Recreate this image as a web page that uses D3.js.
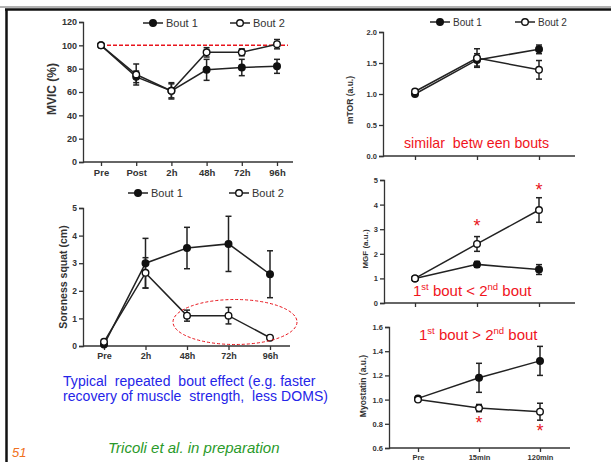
<!DOCTYPE html>
<html>
<head>
<meta charset="utf-8">
<script src="https://cdn.jsdelivr.net/npm/d3@7"></script>
<style>
  body { margin: 0; background: #fff; }
  svg { display: block; font-family: "Liberation Sans", Arial, sans-serif; }
  .tick text { font-weight: bold; fill: #333; }
  .domain, .tick line { stroke: #333; stroke-width: 1.3px; }
</style>
</head>
<body>
<svg id="slide" width="611" height="462"></svg>
<script>
// data
const mvicCats = ["Pre", "Post", "2h", "48h", "72h", "96h"];
const mvicBout1 = [100, 73, 61, 79, 81, 82];
const mvicBout1Err = [0, 5, 6, 9, 7, 6];
const mvicBout2 = [100, 75, 61, 94, 94, 101];
const mvicBout2Err = [0, 9, 7, 4, 3, 4];
const mvicTicks = [0, 20, 40, 60, 80, 100, 120];

const sorenessCats = ["Pre", "2h", "48h", "72h", "96h"];
const sorenessBout1 = [0.05, 3.0, 3.55, 3.7, 2.6];
const sorenessBout1Err = [0, 0.9, 0.75, 1.0, 0.85];
const sorenessBout2 = [0.15, 2.65, 1.1, 1.1, 0.3];
const sorenessBout2Err = [0, 0.55, 0.2, 0.3, 0.05];
const sorenessTicks = [0, 1, 2, 3, 4, 5];

const biopsyCats = ["Pre", "15min", "120min"];
const mtorBout1 = [1.0, 1.55, 1.72];
const mtorBout1Err = [0, 0.1, 0.07];
const mtorBout2 = [1.04, 1.58, 1.39];
const mtorBout2Err = [0, 0.15, 0.15];
const mtorTicks = [0, 0.5, 1.0, 1.5, 2.0];

const mgfBout1 = [1.0, 1.57, 1.36];
const mgfBout1Err = [0, 0.12, 0.2];
const mgfBout2 = [1.0, 2.4, 3.78];
const mgfBout2Err = [0, 0.3, 0.5];
const mgfTicks = [0, 1, 2, 3, 4, 5];

const myoBout1 = [1.01, 1.18, 1.32];
const myoBout1Err = [0, 0.12, 0.12];
const myoBout2 = [1.0, 0.93, 0.90];
const myoBout2Err = [0, 0.03, 0.07];
const myoTicks = [0.6, 0.8, 1.0, 1.2, 1.4, 1.6];

const svg = d3.select("#slide");

// slide frame
svg.append("line").attr("x1", 0).attr("x2", 611).attr("y1", 7).attr("y2", 7)
  .attr("stroke", "#999").attr("stroke-width", 1.5);
svg.append("line").attr("x1", 5).attr("x2", 611).attr("y1", 9.5).attr("y2", 9.5)
  .attr("stroke", "#111").attr("stroke-width", 2.5);
svg.append("line").attr("x1", 6.5).attr("x2", 6.5).attr("y1", 9).attr("y2", 462)
  .attr("stroke", "#111").attr("stroke-width", 2.5);

function drawPanel(p) {
  const g = svg.append("g");
  const x = d3.scalePoint().domain(p.cats).range([p.x0, p.x1]);
  const y = d3.scaleLinear().domain(p.domain).range([p.yBottom, p.yTop]);

  const yAxis = d3.axisLeft(y).tickValues(p.ticks).tickSize(4).tickPadding(2)
    .tickFormat(p.fmt || d3.format("d"));
  g.append("g").attr("transform", `translate(${p.axisX},0)`).call(yAxis)
    .call(a => a.selectAll("text").style("font-size", p.tickFont + "px"));

  const xAxis = d3.axisBottom(x).tickSize(4).tickPadding(3)
    .tickFormat(p.showX ? (d => d) : () => "");
  const gx = g.append("g").attr("transform", `translate(0,${p.yBottom})`).call(xAxis);
  gx.select(".domain").attr("d", `M${p.axisX},0H${p.axisEnd}`);
  gx.selectAll("text").style("font-size", p.xFont + "px");

  g.append("text")
    .attr("transform", `translate(${p.labelX},${p.labelY || (p.yBottom + p.yTop) / 2}) rotate(-90)`)
    .attr("text-anchor", "middle").attr("dy", "0.35em").attr("font-weight", "bold")
    .attr("font-size", p.labelFont).attr("fill", "#333").text(p.label);

  if (p.refLine != null) {
    g.append("line").attr("x1", x(p.cats[0])).attr("x2", p.refEnd)
      .attr("y1", y(p.refLine)).attr("y2", y(p.refLine))
      .attr("stroke", "#e8141c").attr("stroke-width", 1.5).attr("stroke-dasharray", "4,2");
  }

  const line = d3.line().x((d, i) => x(p.cats[i])).y(d => y(d));
  p.series.forEach(s => {
    g.append("path").attr("d", line(s.values)).attr("fill", "none")
      .attr("stroke", "#222").attr("stroke-width", 1.5);
    s.values.forEach((v, i) => {
      const e = s.err[i];
      if (!e) return;
      const cx = x(p.cats[i]);
      g.append("line").attr("x1", cx).attr("x2", cx).attr("y1", y(v - e)).attr("y2", y(v + e))
        .attr("stroke", "#222").attr("stroke-width", 1.5);
      [v - e, v + e].forEach(t => g.append("line").attr("x1", cx - 3).attr("x2", cx + 3)
        .attr("y1", y(t)).attr("y2", y(t)).attr("stroke", "#222").attr("stroke-width", 1.5));
    });
  });
  p.series.forEach(s => {
    g.selectAll(null).data(s.values).join("circle")
      .attr("cx", (d, i) => x(p.cats[i])).attr("cy", d => y(d)).attr("r", 3.3)
      .attr("fill", s.open ? "#fff" : "#111").attr("stroke", "#111").attr("stroke-width", 1.4);
  });

  if (p.legend) {
    p.legend.forEach(l => {
      g.append("line").attr("x1", l.x).attr("x2", l.x + 20).attr("y1", p.legendY).attr("y2", p.legendY)
        .attr("stroke", "#222").attr("stroke-width", 1.5);
      g.append("circle").attr("cx", l.x + 10).attr("cy", p.legendY).attr("r", 3.3)
        .attr("fill", l.open ? "#fff" : "#111").attr("stroke", "#111").attr("stroke-width", 1.4);
      g.append("text").attr("x", l.x + 23).attr("y", p.legendY).attr("dy", "0.35em")
        .attr("font-size", p.legendFont).attr("fill", "#333").text(l.text);
    });
  }

  if (p.stars) {
    p.stars.forEach(st => g.append("text").attr("x", x(st.cat)).attr("y", st.y)
      .attr("text-anchor", "middle").attr("font-size", 18).attr("fill", "#e8141c").text("*"));
  }
  return { x, y };
}

drawPanel({
  cats: mvicCats, x0: 101, x1: 277, axisX: 83, axisEnd: 293,
  domain: [0, 120], ticks: mvicTicks, yBottom: 162, yTop: 22,
  tickFont: 9, xFont: 9.5, showX: true, label: "MVIC (%)", labelX: 52, labelY: 89, labelFont: 12,
  refLine: 100, refEnd: 288,
  series: [{ values: mvicBout1, err: mvicBout1Err }, { values: mvicBout2, err: mvicBout2Err, open: true }],
  legend: [{ x: 143, text: "Bout 1" }, { x: 230, text: "Bout 2", open: true }],
  legendY: 23, legendFont: 11
});

drawPanel({
  cats: sorenessCats, x0: 104, x1: 270, axisX: 83, axisEnd: 290,
  domain: [0, 5], ticks: sorenessTicks, yBottom: 346, yTop: 208,
  tickFont: 8.5, xFont: 9, showX: true, label: "Soreness squat (cm)", labelX: 63, labelY: 277, labelFont: 10.5,
  series: [{ values: sorenessBout1, err: sorenessBout1Err }, { values: sorenessBout2, err: sorenessBout2Err, open: true }],
  legend: [{ x: 128, text: "Bout 1" }, { x: 229, text: "Bout 2", open: true }],
  legendY: 193, legendFont: 11
});

drawPanel({
  cats: biopsyCats, x0: 415, x1: 539, axisX: 383, axisEnd: 575,
  domain: [0, 2], ticks: mtorTicks, yBottom: 156, yTop: 32, fmt: d3.format(".1f"),
  tickFont: 7.5, xFont: 7, showX: false, label: "mTOR (a.u.)", labelX: 350.5, labelY: 100, labelFont: 8.5,
  series: [{ values: mtorBout1, err: mtorBout1Err }, { values: mtorBout2, err: mtorBout2Err, open: true }],
  legend: [{ x: 430, text: "Bout 1" }, { x: 515, text: "Bout 2", open: true }],
  legendY: 22, legendFont: 10
});

drawPanel({
  cats: biopsyCats, x0: 415, x1: 539, axisX: 384, axisEnd: 575,
  domain: [0, 5], ticks: mgfTicks, yBottom: 303, yTop: 180,
  tickFont: 7.5, xFont: 7, showX: false, label: "MGF (a.u.)", labelX: 365.5, labelY: 249, labelFont: 8,
  series: [{ values: mgfBout1, err: mgfBout1Err }, { values: mgfBout2, err: mgfBout2Err, open: true }],
  stars: [{ cat: "15min", y: 232 }, { cat: "120min", y: 196 }]
});

drawPanel({
  cats: biopsyCats, x0: 418, x1: 540, axisX: 389, axisEnd: 570,
  domain: [0.6, 1.6], ticks: myoTicks, yBottom: 448, yTop: 327, fmt: d3.format(".1f"),
  tickFont: 7.5, xFont: 7.5, showX: true, label: "Myostatin (a.u.)", labelX: 363, labelY: 386, labelFont: 8.5,
  series: [{ values: myoBout1, err: myoBout1Err }, { values: myoBout2, err: myoBout2Err, open: true }],
  stars: [{ cat: "15min", y: 429 }, { cat: "120min", y: 437 }]
});

// red dashed ellipse around the bout 2 recovery
svg.append("ellipse").attr("cx", 235).attr("cy", 322).attr("rx", 62).attr("ry", 22.5)
  .attr("fill", "none").attr("stroke", "#e8141c").attr("stroke-width", 1)
  .attr("stroke-dasharray", "3,2");

// annotations
const red = "#f0141c";
svg.append("text").attr("x", 404).attr("y", 148).attr("font-size", 14.2).attr("fill", red)
  .attr("xml:space", "preserve").text("similar  betw een bouts");

function boutText(xp, yp, op) {
  const t = svg.append("text").attr("x", xp).attr("y", yp).attr("font-size", 15).attr("fill", red);
  t.append("tspan").text("1");
  t.append("tspan").attr("dy", -6).attr("font-size", 9.5).text("st");
  t.append("tspan").attr("dy", 6).text(` bout ${op} 2`);
  t.append("tspan").attr("dy", -6).attr("font-size", 9.5).text("nd");
  t.append("tspan").attr("dy", 6).text(" bout");
}
boutText(413, 296, "<");
boutText(419, 340, ">");

const blue = "#2424e8";
svg.append("text").attr("x", 63).attr("y", 386).attr("font-size", 14).attr("fill", blue)
  .attr("letter-spacing", 0.05).attr("xml:space", "preserve")
  .text("Typical  repeated  bout effect (e.g. faster");
svg.append("text").attr("x", 63).attr("y", 401).attr("font-size", 14).attr("fill", blue)
  .attr("letter-spacing", 0.05).attr("xml:space", "preserve")
  .text("recovery of muscle  strength,  less DOMS)");

svg.append("text").attr("x", 108).attr("y", 453).attr("font-size", 15).attr("font-style", "italic")
  .attr("fill", "#2a9a2a").text("Tricoli et al. in preparation");
svg.append("text").attr("x", 12).attr("y", 457).attr("font-size", 13).attr("font-style", "italic")
  .attr("fill", "#f07020").text("51");
</script>
</body>
</html>
